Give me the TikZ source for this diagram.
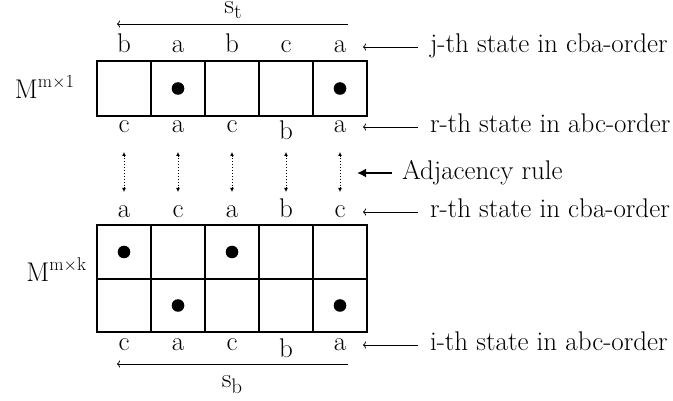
\documentclass[tikz,border=0pt]{standalone}
\usepackage{fontspec}
\usetikzlibrary{arrows.meta}
\begin{document}
\begin{tikzpicture}[x=1pt,y=-1pt,
  every node/.style={inner sep=0pt, outer sep=0pt, font=\fontsize{27}{31}\selectfont},
  cell/.style={draw, line width=1.2pt, minimum width=54pt, minimum height=55pt, anchor=north west},
  dot/.style={circle, fill, minimum size=12.6pt},
  thinarrow/.style={line width=0.8pt, -{To[length=3pt,width=7pt]}},
  dotarrow/.style={line width=0.9pt, dotted, {Latex[length=4pt,width=4pt]}-{Latex[length=4pt,width=4pt]}},
  bigarrow/.style={line width=2pt, -{Latex[length=9pt,width=9pt]}}]
\useasboundingbox (0,0) rectangle (673,401);

% upper matrix: one row of five cells
\foreach \i in {1,...,5}
  \node[cell] (t\i) at ({97+54*(\i-1)},61) {};
% lower matrix: two rows of five cells
\foreach \i in {1,...,5}{
  \node[cell, minimum height=54pt] (u\i) at ({97+54*(\i-1)},225) {};
  \node[cell, minimum height=53pt] (l\i) at ({97+54*(\i-1)},279) {};
}

% marked entries
\node[dot] at (t2) {};
\node[dot] at (t5) {};
\node[dot] at (u1) {};
\node[dot] at (u3) {};
\node[dot] at (l2) {};
\node[dot] at (l5) {};

% matrix names
\node[anchor=base east] (mt) at (74,99)
  {M\raisebox{11pt}{\fontsize{18.5}{19}\selectfont m$\times$1}};
\node[anchor=base east] (mb) at (86,282)
  {M\raisebox{11pt}{\fontsize{18.5}{19}\selectfont m$\times$k}};

% state letters
\foreach \l [count=\i] in {b,a,b,c,a}
  \node[anchor=base] (ta\i) at ({124+54*(\i-1)},53) {\l};
\foreach \l [count=\i] in {c,a,c,b,a}
  \node[anchor=north] (tb\i) at ({124+54*(\i-1)},121) {\l};
\foreach \l [count=\i] in {a,c,a,b,c}
  \node[anchor=base] (ba\i) at ({124+54*(\i-1)},218) {\l};
\foreach \l [count=\i] in {c,a,c,b,a}
  \node[anchor=north] (bb\i) at ({124+54*(\i-1)},339) {\l};

% adjacency links between the two letter rows
\foreach \i in {1,...,5}{
  \coordinate (p\i) at ({124+54*(\i-1)},152);
  \coordinate (q\i) at ({124+54*(\i-1)},192);
  \draw[dotarrow] (p\i) -- (q\i);
}

% scan directions
\coordinate (st0) at (348,24);
\coordinate (st1) at (117,24);
\draw[thinarrow] (st0) -- (st1);
\node[anchor=base] (st) at (233,14) {s\raisebox{-4.5pt}{\fontsize{21}{21}\selectfont t}};
\coordinate (sb0) at (348,364);
\coordinate (sb1) at (117,364);
\draw[thinarrow] (sb0) -- (sb1);
\node[anchor=base] (sb) at (232,387) {s\raisebox{-6pt}{\fontsize{21}{21}\selectfont b}};

% side annotations
\node[anchor=base west] (jt) at (430,53) {j-th state in cba-order};
\coordinate (jt0) at (418,47); \coordinate (jt1) at (363,47);
\draw[thinarrow] (jt0) -- (jt1);

\node[anchor=base west] (ra) at (430,133) {r-th state in abc-order};
\coordinate (ra0) at (418,127); \coordinate (ra1) at (363,127);
\draw[thinarrow] (ra0) -- (ra1);

\node[anchor=base west] (adj) at (402,180) {Adjacency rule};
\coordinate (adj0) at (392,173); \coordinate (adj1) at (357,173);
\draw[bigarrow] (adj0) -- (adj1);

\node[anchor=base west] (rc) at (430,218) {r-th state in cba-order};
\coordinate (rc0) at (418,212); \coordinate (rc1) at (363,212);
\draw[thinarrow] (rc0) -- (rc1);

\node[anchor=base west] (ia) at (430,350) {i-th state in abc-order};
\coordinate (ia0) at (418,345); \coordinate (ia1) at (363,345);
\draw[thinarrow] (ia0) -- (ia1);
\end{tikzpicture}
\end{document}
